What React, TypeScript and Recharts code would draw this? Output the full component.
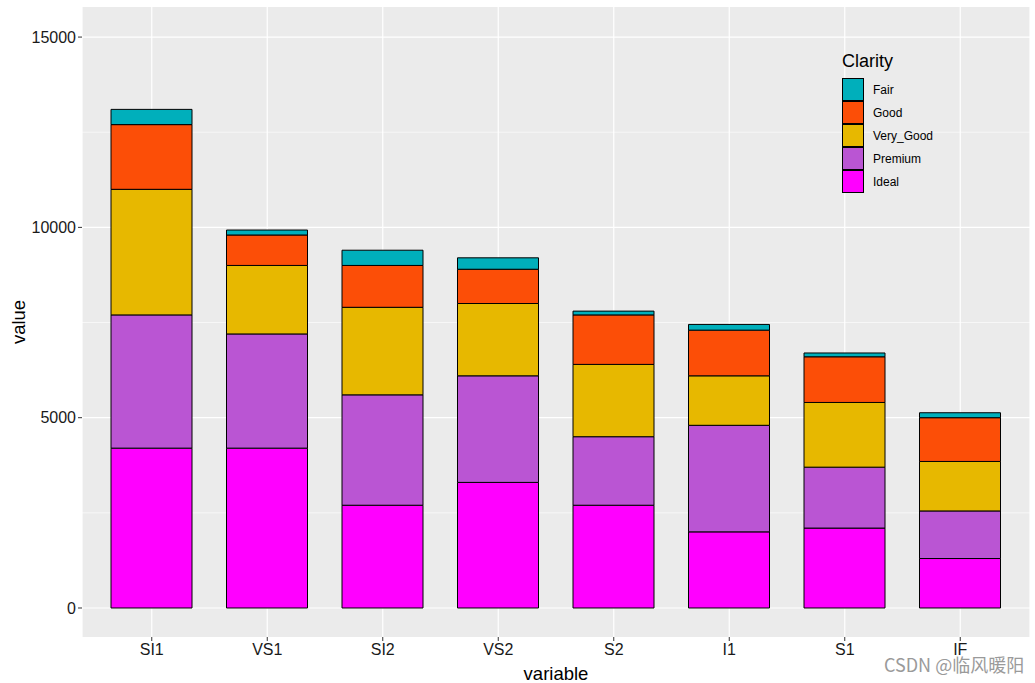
import { BarChart, Bar, XAxis, YAxis, CartesianGrid, Legend } from 'recharts';

const categories = ['SI1', 'VS1', 'SI2', 'VS2', 'S2', 'I1', 'S1', 'IF'];
const ideal = [4200, 4200, 2700, 3300, 2700, 2000, 2100, 1300];
const premium = [3500, 3000, 2900, 2800, 1800, 2800, 1600, 1250];
const veryGood = [3300, 1800, 2300, 1900, 1900, 1300, 1700, 1300];
const good = [1700, 800, 1100, 900, 1300, 1200, 1200, 1150];
const fair = [400, 130, 400, 300, 100, 150, 100, 130];

const yTicks = [0, 5000, 10000, 15000];
const yMinor = [2500, 7500, 12500];

// 아래에서 위로 쌓이는 순서
const SERIES = [
  { key: 'Ideal', color: '#FF00FF' },
  { key: 'Premium', color: '#BA55D3' },
  { key: 'Very_Good', color: '#E7B800' },
  { key: 'Good', color: '#FC4E07' },
  { key: 'Fair', color: '#00AFBB' },
];

const data = categories.map((name, i) => ({
  name,
  Ideal: ideal[i],
  Premium: premium[i],
  Very_Good: veryGood[i],
  Good: good[i],
  Fair: fair[i],
}));

const FONT = '"Liberation Sans", Arial, sans-serif';

function ClarityLegend() {
  const items = [...SERIES].reverse();
  return (
    <div style={{ fontFamily: FONT, color: '#000' }}>
      <div style={{ fontSize: 18, lineHeight: '18px', marginBottom: 8 }}>Clarity</div>
      {items.map((s) => (
        <div key={s.key} style={{ display: 'flex', alignItems: 'center', height: 23 }}>
          <div
            style={{
              width: 22,
              height: 23,
              background: s.color,
              border: '1px solid #000',
              boxSizing: 'border-box',
            }}
          />
          <span style={{ fontSize: 12, marginLeft: 9 }}>{s.key}</span>
        </div>
      ))}
    </div>
  );
}

export default function App() {
  return (
    <div style={{ position: 'absolute', left: 0, top: 0, width: 1035, height: 683, background: '#fff' }}>
      <BarChart
        width={1035}
        height={683}
        data={data}
        margin={{ top: 7, right: 5, left: 0, bottom: 0 }}
        barSize={81}
      >
        <CartesianGrid
          stroke="#fff"
          strokeWidth={0.6}
          vertical={false}
          horizontalValues={yMinor}
          fill="#EBEBEB"
        />
        <CartesianGrid stroke="#fff" strokeWidth={1.2} horizontalValues={yTicks} />
        <XAxis
          dataKey="name"
          height={46}
          padding={{ left: 12, right: 12 }}
          axisLine={false}
          tickSize={4}
          tickLine={{ stroke: '#333' }}
          tick={{ fill: '#1A1A1A', fontSize: 16, fontFamily: FONT, dy: 1 }}
          label={{ value: 'variable', position: 'insideBottom', offset: 3, fill: '#000', fontSize: 18.5, fontFamily: FONT }}
        />
        <YAxis
          width={82}
          domain={[-762, 15790]}
          ticks={yTicks}
          allowDataOverflow
          axisLine={false}
          tickSize={4}
          tickLine={{ stroke: '#333' }}
          tick={{ fill: '#1A1A1A', fontSize: 16, fontFamily: FONT }}
          label={{
            value: 'value',
            angle: -90,
            position: 'insideLeft',
            offset: 18,
            fill: '#000',
            fontSize: 18.5,
            fontFamily: FONT,
            style: { textAnchor: 'middle' },
          }}
        />
        <Legend
          layout="horizontal"
          verticalAlign="middle"
          content={<ClarityLegend />}
          wrapperStyle={{ left: 842, top: 52, width: 150 }}
        />
        {SERIES.map((s) => (
          <Bar key={s.key} dataKey={s.key} stackId="a" fill={s.color} stroke="#000" strokeWidth={1} isAnimationActive={false} />
        ))}
      </BarChart>
      <div
        style={{
          position: 'absolute',
          left: 884,
          top: 652,
          fontSize: 18,
          lineHeight: '24px',
          color: '#9A9A9A',
          fontFamily: '"Noto Sans CJK SC", "Noto Sans", sans-serif',
          whiteSpace: 'nowrap',
        }}
      >
        CSDN @临风暖阳
      </div>
    </div>
  );
}
